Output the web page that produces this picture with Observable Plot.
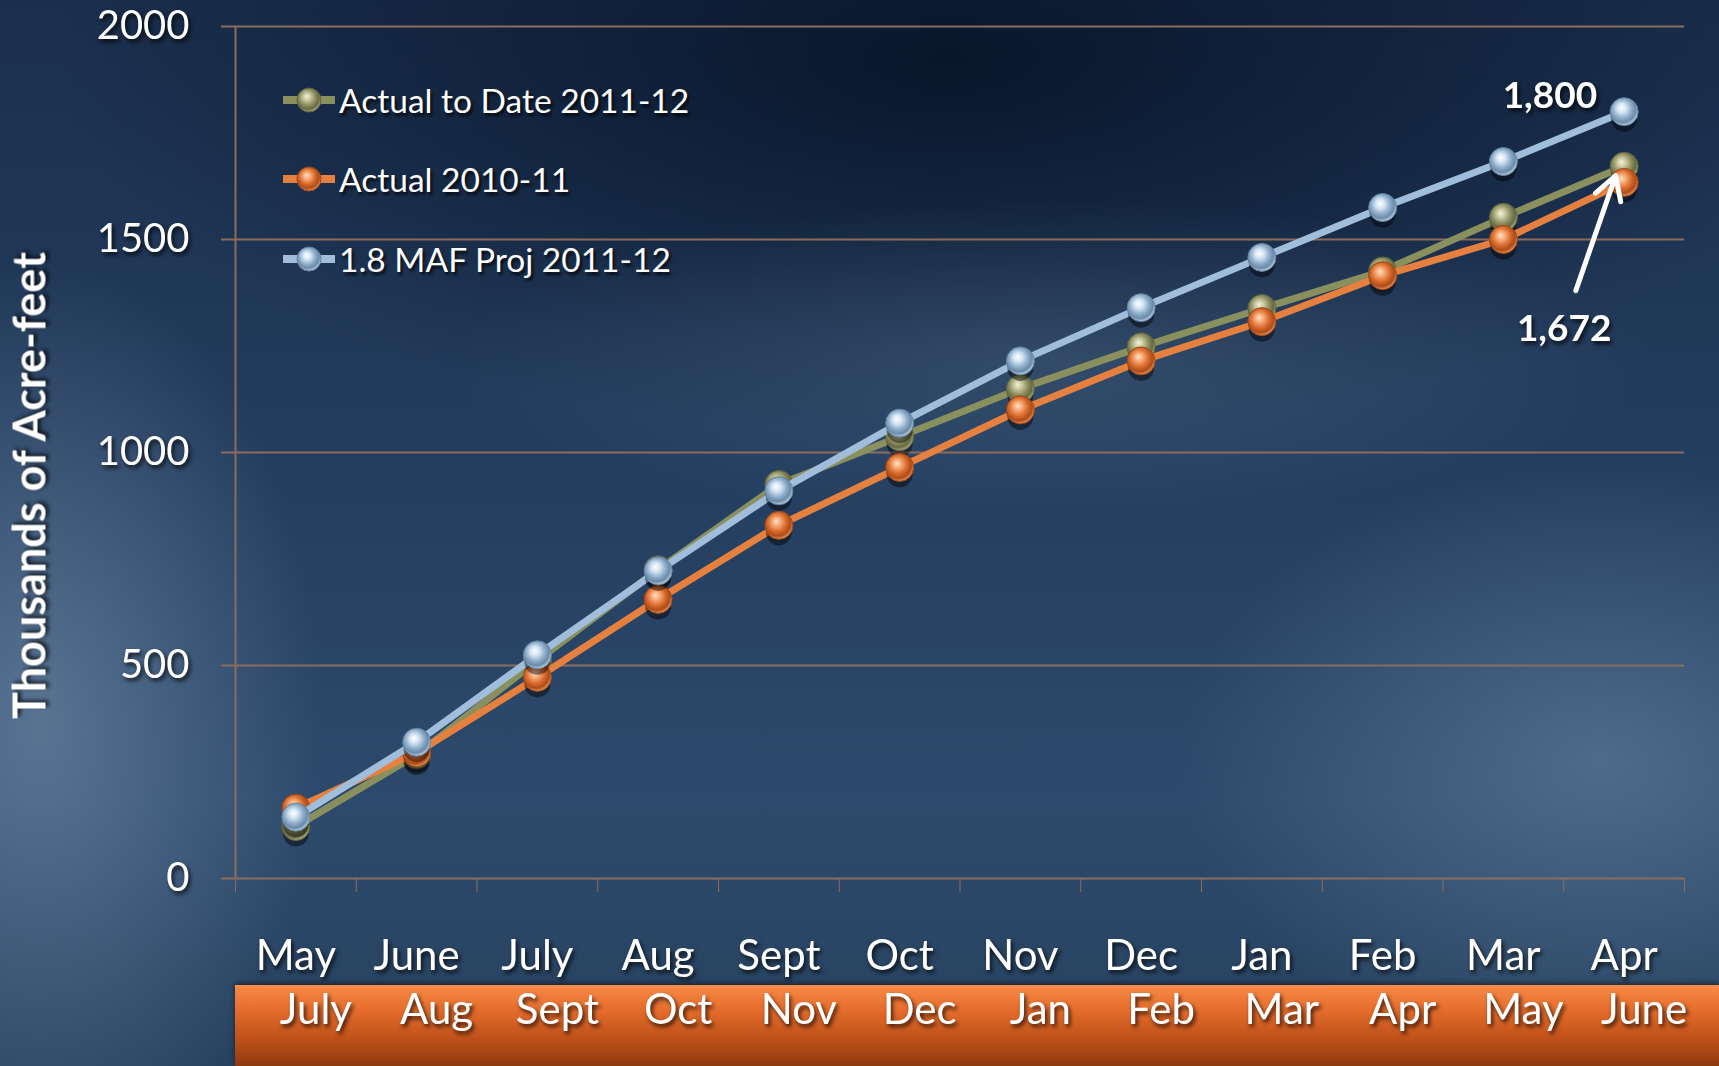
<!DOCTYPE html>
<html>
<head>
<meta charset="utf-8">
<script src="https://cdn.jsdelivr.net/npm/d3@7"></script>
<script src="https://cdn.jsdelivr.net/npm/@observablehq/plot@0.6"></script>
<style>
html, body { margin: 0; padding: 0; width: 1719px; height: 1066px; overflow: hidden; }
body {
  position: relative;
  font-family: Lato, "Open Sans", sans-serif;
  background:
    radial-gradient(ellipse 280px 460px at 40px 720px, rgba(120,145,175,.6), rgba(120,145,175,0) 100%),
    radial-gradient(ellipse 420px 300px at 1600px 760px, rgba(105,135,165,.55), rgba(105,135,165,0) 100%),
    radial-gradient(ellipse 600px 160px at 1050px 360px, rgba(90,120,150,.35), rgba(90,120,150,0) 100%),
    radial-gradient(ellipse 900px 380px at 950px 60px, rgba(6,18,38,.85), rgba(6,18,38,0) 100%),
    linear-gradient(180deg, #1a2f4d 0%, #243e5f 45%, #2d4a6c 75%, #27425f 100%);
}
#band {
  position: absolute; left: 235px; top: 985px; width: 1484px; height: 81px;
  background: linear-gradient(180deg, #f98b48 0%, #e66d2c 30%, #c0521a 65%, #8f3a10 100%);
  box-shadow: 0 -2px 5px rgba(0,0,0,.45);
}
#chart { position: absolute; left: 0; top: 0; }
#chart text { fill: #ffffff; filter: drop-shadow(2px 3px 2px rgba(0,0,0,.75)); }
#legend { position: absolute; left: 283px; top: 0; }
.item { position: absolute; left: 0; height: 40px; display: flex; align-items: center; white-space: nowrap;
  color: #fff; font-size: 33.5px; text-shadow: 2px 3px 3px rgba(0,0,0,.75); }
.item svg { margin-right: 4px; }
</style>
</head>
<body>
<svg width="0" height="0" style="position:absolute">
  <defs>
    <radialGradient id="gBlue" cx="45%" cy="42%" r="58%" fx="40%" fy="35%">
      <stop offset="0%" stop-color="#ffffff"/>
      <stop offset="28%" stop-color="#d5e5f3"/>
      <stop offset="58%" stop-color="#8eaecb"/>
      <stop offset="82%" stop-color="#6a8aa8"/>
      <stop offset="100%" stop-color="#bcd1e4"/>
    </radialGradient>
    <radialGradient id="gGreen" cx="45%" cy="42%" r="58%" fx="40%" fy="35%">
      <stop offset="0%" stop-color="#f4f2da"/>
      <stop offset="28%" stop-color="#c6c69c"/>
      <stop offset="58%" stop-color="#8b8e5f"/>
      <stop offset="82%" stop-color="#676a43"/>
      <stop offset="100%" stop-color="#aaac80"/>
    </radialGradient>
    <radialGradient id="gOrange" cx="45%" cy="42%" r="58%" fx="40%" fy="35%">
      <stop offset="0%" stop-color="#ffe2c8"/>
      <stop offset="28%" stop-color="#f5a672"/>
      <stop offset="58%" stop-color="#d8692a"/>
      <stop offset="82%" stop-color="#ab4d1b"/>
      <stop offset="100%" stop-color="#ec8f55"/>
    </radialGradient>
  </defs>
</svg>
<div id="band"></div>
<div id="chart"></div>
<div id="legend"></div>
<script>
// ---- data ----
const topMonths = ["May", "June", "July", "Aug", "Sept", "Oct", "Nov", "Dec", "Jan", "Feb", "Mar", "Apr"];
const bottomMonths = ["July", "Aug", "Sept", "Oct", "Nov", "Dec", "Jan", "Feb", "Mar", "Apr", "May", "June"];
const seriesNames = ["Actual to Date 2011-12", "Actual 2010-11", "1.8 MAF Proj 2011-12"];
const actualToDate2011 = [122, 290, 512, 725, 925, 1037, 1150, 1248, 1338, 1426, 1552, 1672];
const actual2010 = [165, 295, 472, 655, 829, 965, 1100, 1215, 1307, 1415, 1500, 1634];
const proj2011 = [144, 320, 525, 722, 910, 1069, 1215, 1340, 1458, 1575, 1683, 1800];
const yTicks = [0, 500, 1000, 1500, 2000];

// ---- styling ----
const brown = "#8d6c5c";
const series = [
  {name: seriesNames[0], values: actualToDate2011, color: "#8a8f5e", grad: "gGreen", edge: "#5f6240"},
  {name: seriesNames[1], values: actual2010, color: "#e5803f", grad: "gOrange", edge: "#9c4716"},
  {name: seriesNames[2], values: proj2011, color: "#a0bedb", grad: "gBlue", edge: "#62819e"}
];
const n = topMonths.length;
const rowsOf = s => s.values.map((v, i) => ({series: s.name, i, x: i + 0.5, v}));
const fmt = d3.format(",");

const marks = [
  Plot.ruleY(yTicks, {stroke: brown, strokeWidth: 2, insetLeft: -14}),
  Plot.ruleX([0], {stroke: brown, strokeWidth: 2})
];
for (const s of series) {
  const rows = rowsOf(s);
  marks.push(
    Plot.line(rows, {x: "x", y: "v", stroke: s.color, strokeWidth: 7, strokeLinejoin: "round", strokeLinecap: "round"}),
    Plot.dot(rows, {x: "x", y: "v", r: 13, fill: "#000", fillOpacity: 0.45, dy: 7}),
    Plot.dot(rows, {x: "x", y: "v", r: 14, fill: `url(#${s.grad})`, stroke: s.edge, strokeWidth: 1})
  );
}
const lastProj = rowsOf(series[2])[n - 1];
const lastActual = rowsOf(series[0])[n - 1];
marks.push(
  Plot.text(topMonths, {x: (d, i) => i + 0.5, frameAnchor: "bottom", dy: 91, fontSize: 42}),
  Plot.text(bottomMonths, {x: (d, i) => i + 0.5, frameAnchor: "bottom", dy: 145, dx: 20, fontSize: 42}),
  Plot.text([lastProj], {x: "x", y: "v", text: d => fmt(d.v), textAnchor: "end", dx: -27, dy: -16, fontWeight: "bold", fontSize: 37}),
  Plot.text([lastActual], {x: "x", y: "v", text: d => fmt(d.v), dx: -60, dy: 163, fontWeight: "bold", fontSize: 37}),
  Plot.arrow([lastActual], {x1: d => d.x - 0.4, y1: d => d.v - 292, x2: d => d.x - 0.07, y2: d => d.v - 22, stroke: "white", strokeWidth: 5}),
  Plot.text(["Thousands of Acre-feet"], {frameAnchor: "left", textAnchor: "middle", rotate: -90, dx: -204, dy: 33, fontWeight: "bold", fontSize: 45})
);

const chart = Plot.plot({
  width: 1719, height: 1066,
  marginTop: 26, marginBottom: 188, marginLeft: 235, marginRight: 35,
  style: {background: "transparent", color: brown, fontFamily: "Lato, 'Open Sans', sans-serif", fontSize: "40px", overflow: "visible"},
  x: {domain: [0, n], ticks: n, tickSize: 14, tickFormat: () => "", label: null},
  y: {domain: [0, 2000], ticks: 4, tickSize: 14, tickPadding: 32, tickFormat: d => String(d), label: null},
  marks
});
document.getElementById("chart").appendChild(chart);

// ---- legend ----
const legend = d3.select("#legend");
const tops = [100, 179, 259];
series.forEach((s, k) => {
  const item = legend.append("div").attr("class", "item").style("top", (tops[k] - 20) + "px");
  const sw = item.append("svg").attr("width", 52).attr("height", 30);
  sw.append("line").attr("x1", 1).attr("x2", 51).attr("y1", 15).attr("y2", 15)
    .attr("stroke", s.color).attr("stroke-width", 8).attr("stroke-linecap", "round");
  sw.append("circle").attr("cx", 26).attr("cy", 15).attr("r", 12)
    .attr("fill", `url(#${s.grad})`).attr("stroke", s.edge);
  item.append("span").text(s.name);
});
</script>
</body>
</html>
